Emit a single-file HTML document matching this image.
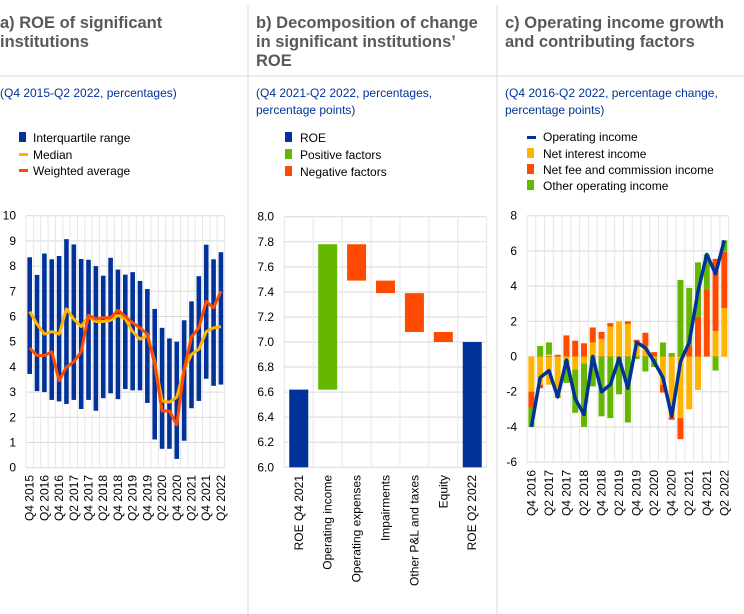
<!DOCTYPE html>
<html><head><meta charset="utf-8"><style>
body{margin:0;background:#fff;}
svg{display:block;font-family:"Liberation Sans",Arial,sans-serif;}
</style></head><body>
<svg id="s" width="744" height="614" viewBox="0 0 744 614" xmlns="http://www.w3.org/2000/svg">
<line x1="248" y1="5" x2="248" y2="614" stroke="#d9d9d9"/>
<line x1="497" y1="5" x2="497" y2="614" stroke="#d9d9d9"/>
<line x1="0" y1="76" x2="744" y2="76" stroke="#d9d9d9"/>
<g font-size="16.5" font-weight="bold" fill="#595959">
<text x="0" y="28">a) ROE of significant</text><text x="0" y="47">institutions</text>
<text x="256" y="28">b) Decomposition of change</text><text x="256" y="47">in significant institutions’</text><text x="256" y="66">ROE</text>
<text x="505" y="28">c) Operating income growth</text><text x="505" y="47">and contributing factors</text>
</g>
<g font-size="12" fill="#003299">
<text x="0" y="97">(Q4 2015-Q2 2022, percentages)</text>
<text x="256" y="97">(Q4 2021-Q2 2022, percentages,</text><text x="256" y="114">percentage points)</text>
<text x="505" y="97">(Q4 2016-Q2 2022, percentage change,</text><text x="505" y="114">percentage points)</text>
</g>
<g font-size="12" fill="#000">
<rect x="19" y="132" width="7" height="10" fill="#003299"/><text x="33" y="142">Interquartile range</text>
<rect x="19" y="153" width="9" height="3" fill="#ffb400"/><text x="33" y="159">Median</text>
<rect x="19" y="169" width="9" height="3" fill="#ff4b00"/><text x="33" y="175">Weighted average</text>
<rect x="285" y="132" width="7" height="10" fill="#003299"/><text x="300" y="142">ROE</text>
<rect x="285" y="149" width="7" height="10" fill="#65b800"/><text x="300" y="159">Positive factors</text>
<rect x="285" y="166" width="7" height="10" fill="#ff4b00"/><text x="300" y="176">Negative factors</text>
<rect x="527" y="136" width="9" height="3" fill="#003299"/><text x="543" y="141">Operating income</text>
<rect x="527" y="148" width="7" height="10" fill="#ffb400"/><text x="543" y="158">Net interest income</text>
<rect x="527" y="164" width="7" height="10" fill="#ff4b00"/><text x="543" y="174">Net fee and commission income</text>
<rect x="527" y="180" width="7" height="10" fill="#65b800"/><text x="543" y="190">Other operating income</text>
</g>
<g id="g"></g>
</svg>
<script>
var NS="http://www.w3.org/2000/svg",G=document.getElementById("g");
function el(t,a,txt){var e=document.createElementNS(NS,t);for(var k in a)e.setAttribute(k,a[k]);if(txt!=null)e.textContent=txt;G.appendChild(e);return e;}
var B="#003299",Y="#ffb400",O="#ff4b00",GR="#65b800";
// Chart a
(function(){var L=26,R=224.6,y=v=>467.7-25.2*v,n=27,st=(R-L)/n;
for(var v=0;v<=10;v++){el("line",{x1:L,x2:R,y1:y(v),y2:y(v),stroke:"#d9d9d9"});el("text",{x:16,y:y(v)+4,"text-anchor":"end","font-size":12},v);}
for(var i=0;i<=n;i++)el("line",{x1:L+st*i,x2:L+st*i,y1:y(10),y2:y(0),stroke:"#e6e6e6"});
var top=[8.35,7.65,8.5,8.27,8.4,9.07,8.86,8.28,8.25,8.0,7.62,8.33,7.86,7.66,7.76,7.41,7.09,6.3,5.55,5.13,5.0,5.85,6.6,7.6,8.85,8.27,8.55];
var bot=[3.72,3.04,3.0,2.69,2.63,2.53,2.69,2.33,2.69,2.26,2.76,2.95,2.72,3.12,3.07,3.07,2.57,1.12,0.75,0.75,0.35,1.07,2.36,2.65,3.53,3.25,3.3];
var med=[6.2,5.7,5.3,5.4,5.3,6.3,5.9,5.6,6.0,5.8,5.8,5.85,6.05,5.9,5.4,5.1,5.25,4.2,2.65,2.6,2.8,3.9,4.5,4.7,5.4,5.55,5.6];
var wa=[4.75,4.45,4.45,4.6,3.45,4.0,4.2,4.6,6.05,5.9,5.95,5.95,6.25,6.0,5.75,5.55,5.3,4.1,2.25,2.25,1.7,3.9,5.2,5.55,6.6,6.35,7.0];
var c=i=>L+st*(i+0.5);
for(var i=0;i<n;i++)el("rect",{x:c(i)-2.3,width:4.6,y:y(top[i]),height:y(bot[i])-y(top[i]),fill:B});
el("polyline",{points:med.map((v,i)=>c(i)+","+y(v)).join(" "),fill:"none",stroke:Y,"stroke-width":3,"stroke-linejoin":"round"});
el("polyline",{points:wa.map((v,i)=>c(i)+","+y(v)).join(" "),fill:"none",stroke:O,"stroke-width":3,"stroke-linejoin":"round"});
var q=["Q4","Q2"];for(var i=0;i<n;i+=2){var yr=2015+Math.ceil(i/4+0.01)-(i%4==0?0:0);var lab=(i%4==0?"Q4 "+(2015+i/4):"Q2 "+(2016+(i-2)/4));
el("text",{transform:"translate("+(c(i)+4)+",475) rotate(-90)","text-anchor":"end","font-size":12},lab);}
})();
// Chart b
(function(){var L=284.3,R=486.7,y=v=>467.3-(v-6)*125.3,st=(R-L)/7,c=j=>L+st*(j+0.5);
for(var k=0;k<=10;k++){var v=6+k*0.2;el("line",{x1:L,x2:R,y1:y(v),y2:y(v),stroke:"#d9d9d9"});el("text",{x:274,y:y(v)+4,"text-anchor":"end","font-size":12},v.toFixed(1));}
for(var j=0;j<=7;j++)el("line",{x1:L+st*j,x2:L+st*j,y1:y(8),y2:y(6),stroke:"#e6e6e6"});
var d=[[6,6.62,B],[6.62,7.78,GR],[7.49,7.78,O],[7.39,7.49,O],[7.08,7.39,O],[7.0,7.08,O],[6,7.0,B]];
var labs=["ROE Q4 2021","Operating income","Operating expenses","Impairments","Other P&L and taxes","Equity","ROE Q2 2022"];
d.forEach((b,j)=>{el("rect",{x:c(j)-9.5,width:19,y:y(b[1]),height:y(b[0])-y(b[1]),fill:b[2]});
el("text",{transform:"translate("+(c(j)+4)+",475) rotate(-90)","text-anchor":"end","font-size":12},labs[j]);});
})();
// Chart c
(function(){var L=527,R=728.7,y=v=>356.5-17.6*v,n=23,st=(R-L)/n,c=i=>L+st*(i+0.5);
for(var v=-6;v<=8;v+=2){el("line",{x1:L,x2:R,y1:y(v),y2:y(v),stroke:"#d9d9d9"});el("text",{x:517,y:y(v)+4,"text-anchor":"end","font-size":12},v<0?"-"+(-v):v);}
for(var i=0;i<=n;i++)el("line",{x1:L+st*i,x2:L+st*i,y1:y(8),y2:y(-6),stroke:"#e6e6e6"});
var d=[[[0,-2,Y],[-2,-2.9,O],[-2.9,-4,GR]],[[0,-1.6,Y],[-1.6,-1.8,O],[0,0.6,GR]],[[0,-1.6,Y],[0,0.05,O],[0.1,0.8,GR]],[[0,-2.2,Y],[-2.2,-2.35,GR],[0,0.1,O]],
[[0,1.2,O],[0,-0.2,Y],[-0.2,-1.5,GR]],[[0,0.9,O],[0,-0.75,Y],[-0.75,-3.2,GR]],[[0,0.75,O],[0,-0.4,Y],[-0.4,-4.0,GR]],[[0,0.8,Y],[0.8,1.65,O],[0,-1.7,GR]],
[[0,1.0,Y],[1.0,1.4,O],[0,-3.4,GR]],[[0,1.7,Y],[1.7,1.9,O],[0,-3.5,GR]],[[0,2.0,Y],[0,-2.15,GR]],[[0,1.85,Y],[1.85,2.0,O],[0,-3.75,GR]],
[[0,0.8,Y],[0.8,0.95,O],[0,-0.15,GR]],[[0,0.6,Y],[0.6,1.35,O],[0,-0.85,GR]],[[0,0.25,O],[0,-0.1,Y],[-0.1,-0.6,GR]],[[0,0.8,GR],[0,-1.6,Y],[-1.6,-2.05,O]],
[[0,0.2,GR],[0,-3.45,Y],[-3.45,-3.6,O]],[[0,4.35,GR],[0,-3.5,Y],[-3.5,-4.7,O]],[[0,0.6,O],[0.6,3.9,GR],[0,-3.0,Y]],[[0,2.25,O],[2.25,5.35,GR],[0,-1.9,Y]],
[[0,3.8,O],[3.8,5.8,GR]],[[0,1.45,Y],[1.45,5.55,O],[0,-0.8,GR]],[[0,2.75,Y],[2.75,5.95,O],[5.95,6.6,GR]]];
var line=[-4.0,-1.2,-0.8,-2.3,-0.2,-2.4,-3.3,0,-2.0,-1.6,-0.1,-1.8,0.8,0.5,-0.3,-1.2,-3.4,-0.3,0.8,3.7,5.8,4.7,6.6];
d.forEach((s,i)=>s.forEach(b=>{var a=Math.max(b[0],b[1]),z=Math.min(b[0],b[1]);el("rect",{x:c(i)-3,width:6,y:y(a),height:y(z)-y(a),fill:b[2]});}));
el("polyline",{points:line.map((v,i)=>c(i)+","+y(v)).join(" "),fill:"none",stroke:B,"stroke-width":3.5,"stroke-linejoin":"round"});
for(var i=0;i<n;i+=2){var lab=(i%4==0?"Q4 "+(2016+i/4):"Q2 "+(2017+(i-2)/4));
el("text",{transform:"translate("+(c(i)+4)+",470) rotate(-90)","text-anchor":"end","font-size":12},lab);}
})();
</script>
</body></html>
